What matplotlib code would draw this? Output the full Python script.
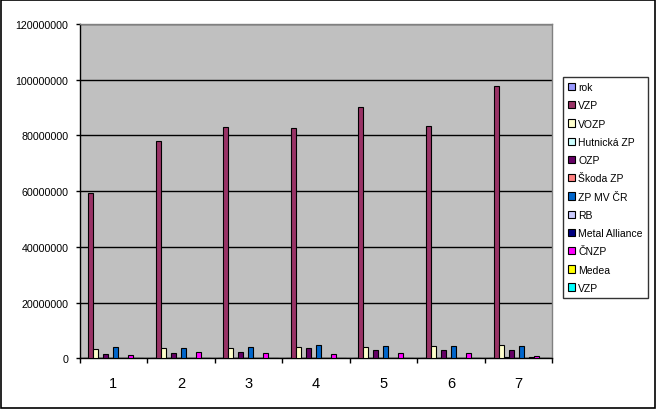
import numpy as np
import matplotlib
matplotlib.use("Agg")
import matplotlib.pyplot as plt
from matplotlib.patches import Rectangle
from matplotlib.ticker import FuncFormatter, MultipleLocator, FixedLocator

plt.rcParams['font.family'] = ['Liberation Sans', 'DejaVu Sans']

# values (CZK)
categories = ['1', '2', '3', '4', '5', '6', '7']
series_names = ['rok', 'VZP', 'VOZP', 'Hutnická ZP', 'OZP', 'Škoda ZP', 'ZP MV ČR',
                'RB', 'Metal Alliance', 'ČNZP', 'Medea', 'VZP']
rok = [1, 2, 3, 4, 5, 6, 7]
vzp = [59300000, 77900000, 83000000, 82600000, 90200000, 83400000, 97700000]
vozp = [3200000, 3600000, 3600000, 4000000, 4000000, 4300000, 4700000]
hutnicka = [0, 0, 0, 0, 0, 0, 300000]
ozp = [1500000, 1800000, 2200000, 3600000, 2900000, 2900000, 2900000]
skoda = [0, 0, 0, 0, 0, 0, 0]
zp_mv = [4000000, 3600000, 4000000, 4700000, 4300000, 4300000, 4300000]
rb = [0, 0, 0, 0, 0, 0, 0]
metal = [0, 0, 0, 0, 0, 0, 600000]
cnzp = [1200000, 2200000, 1800000, 1400000, 1800000, 1800000, 1000000]
medea = [0, 0, 0, 0, 0, 0, 0]
vzp2 = [0, 0, 0, 0, 0, 0, 0]
all_series = [rok, vzp, vozp, hutnicka, ozp, skoda, zp_mv, rb, metal, cnzp, medea, vzp2]
colors = ['#9999FF', '#993366', '#FFFFCC', '#CCFFFF', '#660066', '#FF8080',
          '#0066CC', '#CCCCFF', '#000080', '#FF00FF', '#FFFF00', '#00FFFF']

W, H = 656, 410
fig = plt.figure(figsize=(W / 100, H / 100), dpi=100)
fig.patch.set_facecolor('white')
# outer chart border
fig.patches.append(Rectangle((0.5 / W, 1.5 / H), (W - 2) / W, (H - 2.5) / H,
                             transform=fig.transFigure, fill=False,
                             edgecolor='black', linewidth=1.2))

ax = fig.add_axes([79.5 / W, 1 - 359.3 / H, (552.3 - 79.5) / W, (359.3 - 25) / H])
ax.set_facecolor('#C0C0C0')

x = np.arange(len(categories))
n = len(all_series)
w = 1 / (n + 1.5)
for j, (vals, name, c) in enumerate(zip(all_series, series_names, colors)):
    ax.bar(x - 0.5 + 0.75 * w + j * w, vals, width=w, align='edge', color=c,
           edgecolor='black', linewidth=0.8, label=name, zorder=3)

ax.set_xlim(-0.5, len(categories) - 0.5)
ax.set_ylim(0, 120000000)
ax.yaxis.set_major_locator(MultipleLocator(20000000))
ax.yaxis.set_major_formatter(FuncFormatter(lambda v, p: '%d' % v))
ax.grid(axis='y', color='black', linewidth=1, zorder=1)
ax.set_axisbelow(True)

ax.set_xticks(x)
ax.set_xticklabels(categories, fontsize=10.5)
ax.xaxis.set_minor_locator(FixedLocator(np.arange(-0.5, len(categories), 1)))
ax.tick_params(axis='x', which='major', length=0, pad=12.5)
ax.tick_params(axis='x', which='minor', length=3.5, width=1, direction='out')
ax.tick_params(axis='y', length=3, width=1, direction='out', labelsize=7.7, pad=5)

for s in ['top', 'right']:
    ax.spines[s].set_color('#808080')
    ax.spines[s].set_linewidth(1)
for s in ['left', 'bottom']:
    ax.spines[s].set_color('black')
    ax.spines[s].set_linewidth(1)

leg = ax.legend(loc='upper left', bbox_to_anchor=(562.7 / W, 1 - 78 / H),
                bbox_transform=fig.transFigure, fontsize=7.5, frameon=True,
                fancybox=False, edgecolor='black', borderaxespad=0,
                handlelength=0.7, handleheight=0.7, handletextpad=0.3,
                labelspacing=0.79, borderpad=0.5)
leg.get_frame().set_linewidth(1)
leg.get_frame().set_width((646.7 - 562.7))

fig.savefig('out.png', dpi=100, facecolor='white')
